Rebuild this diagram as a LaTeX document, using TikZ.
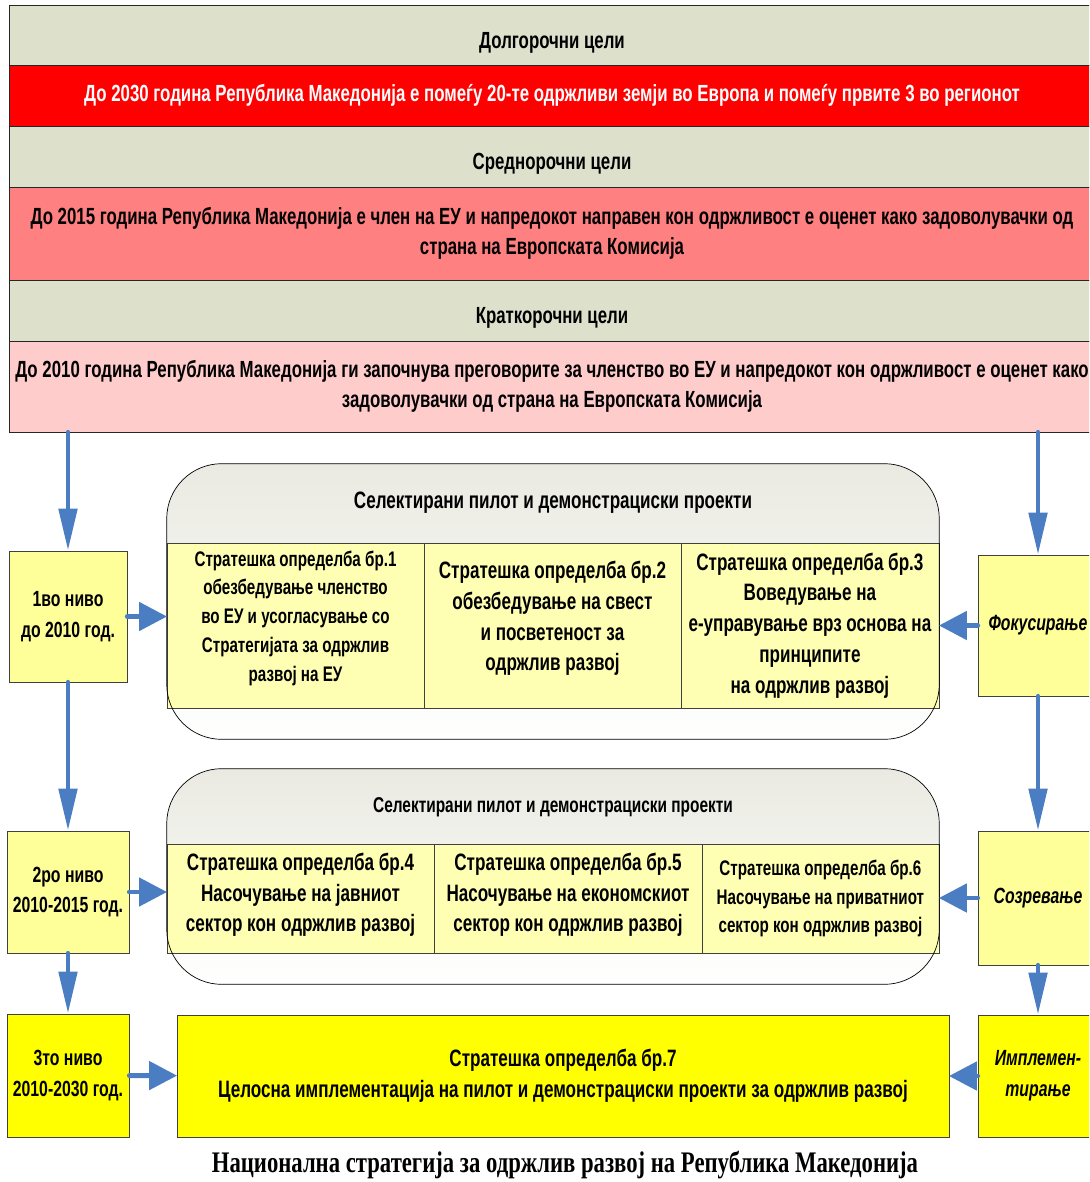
\documentclass[tikz,border=0pt]{standalone}
\usepackage{fontspec}
\setmainfont{Liberation Sans}[FakeStretch=0.72]
\newfontfamily\captionfont{Liberation Serif}[FakeStretch=0.76]
\usetikzlibrary{arrows.meta,positioning}

\definecolor{goalgray}{RGB}{221,225,204}
\definecolor{goalred}{RGB}{255,0,0}
\definecolor{goalpink}{RGB}{255,128,128}
\definecolor{goalrose}{RGB}{255,204,204}
\definecolor{levelyellow}{RGB}{255,255,153}
\definecolor{cellyellow}{RGB}{255,255,180}
\definecolor{brightyellow}{RGB}{255,255,0}
\definecolor{flowblue}{RGB}{74,125,193}
\definecolor{headgray}{RGB}{234,234,226}

\tikzset{band/.style={draw=black!85, minimum width=21.72cm, inner sep=0pt,
        align=center, font=\fontsize{13.3}{17}\selectfont\bfseries},
    goaltitle/.style={band, fill=goalgray, text height=0.62cm, text depth=0.09cm},
    levelbox/.style={draw=black!75, fill=levelyellow, minimum width=2.36cm,
        align=center, font=\fontsize{12.5}{17.5}\selectfont\bfseries},
    stagebox/.style={levelbox, minimum width=2.4cm,
        font=\fontsize{12.5}{17.5}\selectfont\bfseries\itshape},
    cell/.style={draw=black!75, fill=cellyellow, inner sep=0pt, outer sep=0pt,
        align=center, font=\fontsize{13.5}{17.5}\selectfont\bfseries},
    pilot/.style={rounded corners=1.1cm, top color=headgray, middle color=white,
        bottom color=white, minimum width=15.44cm},
    pilothead/.style={font=\fontsize{12.2}{16}\selectfont\bfseries},
    downflow/.style={draw=flowblue, line width=2.8pt, line cap=round,
        -{Triangle[length=0.84cm,width=0.36cm]}},
    sideflow/.style={draw=flowblue, line width=2.8pt, line cap=round,
        -{Triangle[length=0.56cm,width=0.56cm]}},
    }

\begin{document}
\begin{tikzpicture}[x=0.02cm, y=-0.02cm]
\useasboundingbox (0,0) rectangle (1089,1182);
\clip (0,0) rectangle (1089,1182);

% goals
\node[goaltitle, minimum height=1.2cm] (long) at (552,35) {Долгорочни цели};
\node[band, fill=goalred, text=white, minimum height=1.22cm] (longgoal) at (552,95.5)
    {До 2030 година Република Македонија е помеѓу 20-те одржливи земји во Европа и помеѓу првите 3 во регионот};
\node[goaltitle, minimum height=1.22cm] (mid) at (552,156.5) {Среднорочни цели};
\node[band, fill=goalpink, minimum height=1.86cm] (midgoal) at (552,233.5)
    {До 2015 година Република Македонија е член на ЕУ и напредокот направен кон  одржливост е оценет како задоволувачки од\\
     страна на Европската Комисија};
\node[goaltitle, minimum height=1.22cm] (short) at (552,310.5) {Краткорочни цели};
\node[band, fill=goalrose, minimum height=1.82cm] (shortgoal) at (552,386.5)
    {До 2010 година Република Македонија ги започнува преговорите за членство во ЕУ и напредокот кон одржливост е оценет како\\
     задоволувачки од страна на Европската Комисија};

% levels
\node[levelbox, minimum height=2.62cm] (lvl1) at (68,616.5) {1во ниво\\до 2010 год.};
\node[levelbox, minimum height=2.44cm] (lvl2) at (68,892) {2ро ниво\\2010-2015 год.};
\node[levelbox, fill=brightyellow, minimum height=2.46cm] (lvl3) at (68,1075.5) {3то ниво\\2010-2030 год.};

% stages
\node[stagebox, minimum height=2.82cm] (focus) at (1038,625.5) {Фокусирање};
\node[stagebox, minimum height=2.68cm] (mature) at (1038,898) {Созревање};
\node[stagebox, fill=brightyellow, minimum height=2.44cm] (implement) at (1038,1076) {Имплемен-\\тирање};

% first pilot group
\node[pilot, minimum height=5.5cm] (pilotone) at (553,601.5) {};
\node[pilothead, font=\fontsize{13.5}{16}\selectfont\bfseries] (pilotonehead) at (553,503) {Селектирани пилот и демонстрациски проекти};
\node[cell, font=\fontsize{12}{16.4}\selectfont\bfseries, text depth=0.38cm,
    minimum width=5.14cm, minimum height=3.3cm] (strat1) at (295.5,625.5)
    {Стратешка определба бр.1\\обезбедување членство\\во ЕУ и усогласување со\\Стратегијата за одржлив\\развој на ЕУ};
\node[cell, text depth=0.38cm, minimum width=5.14cm, minimum height=3.3cm, right=0pt of strat1] (strat2)
    {Стратешка определба бр.2\\обезбедување на свест\\и посветеност за\\одржлив развој};
\node[cell, minimum width=5.16cm, minimum height=3.3cm, right=0pt of strat2] (strat3)
    {Стратешка определба бр.3\\Воведување на\\е-управување врз основа на\\принципите\\на одржлив развој};
\draw[rounded corners=1.1cm] (pilotone.north west) rectangle (pilotone.south east);

% second pilot group
\node[pilot, minimum height=4.3cm] (pilottwo) at (553,876.5) {};
\node[pilothead] (pilottwohead) at (553,807) {Селектирани пилот и демонстрациски проекти};
\node[cell, text depth=0.24cm, minimum width=5.34cm, minimum height=2.18cm] (strat4) at (300.5,898.5)
    {Стратешка определба  бр.4\\Насочување на јавниот\\сектор кон одржлив развој};
\node[cell, text depth=0.24cm, minimum width=5.36cm, minimum height=2.18cm, right=0pt of strat4] (strat5)
    {Стратешка определба  бр.5\\Насочување на економскиот\\сектор кон одржлив развој};
\node[cell, font=\fontsize{12}{16.4}\selectfont\bfseries, minimum width=4.74cm, minimum height=2.18cm, right=0pt of strat5] (strat6)
    {Стратешка определба бр.6\\Насочување на приватниот\\сектор кон одржлив развој};
\draw[rounded corners=1.1cm] (pilottwo.north west) rectangle (pilottwo.south east);

% full implementation
\node[cell, fill=brightyellow, minimum width=15.44cm, minimum height=2.44cm] (strat7) at (563,1076)
    {Стратешка определба бр.7\\Целосна имплементација на пилот и демонстрациски проекти за одржлив развој};

\node (title) at (565,1165) {\captionfont\bfseries\fontsize{17}{20}\selectfont Национална стратегија за одржлив развој на Република Македонија};

% arrows
\draw[downflow] (shortgoal.south -| lvl1) -- (lvl1);
\draw[downflow] (lvl1) -- (lvl2);
\draw[downflow] (lvl2) -- (lvl3);
\draw[downflow] (shortgoal.south -| focus) -- (focus);
\draw[downflow] (focus) -- (mature);
\draw[downflow] (mature) -- (implement);
\draw[sideflow] (lvl1.east) -- (lvl1.east -| strat1.west);
\draw[sideflow] (lvl2.east) -- (lvl2.east -| strat4.west);
\draw[sideflow] (lvl3) -- (strat7);
\draw[sideflow] (focus.west) -- (focus.west -| strat3.east);
\draw[sideflow] (mature.west) -- (mature.west -| strat6.east);
\draw[sideflow] (implement) -- (strat7);
\end{tikzpicture}
\end{document}
